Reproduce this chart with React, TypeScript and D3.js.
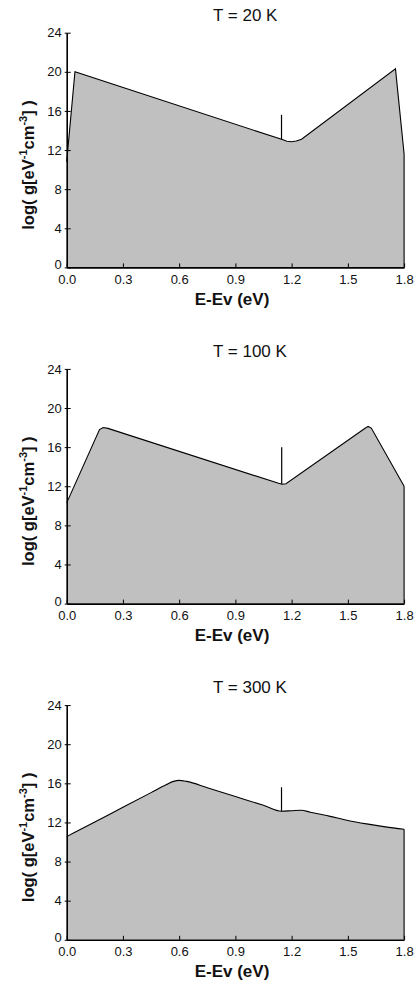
import React, { useEffect, useRef } from "react";
import * as d3 from "d3";

// panel titles
const temps = ["T = 20 K", "T = 100 K", "T = 300 K"];

// energy (eV) and log(g)
const energy20 = [0, 0.044, 1.146, 1.175, 1.2, 1.225, 1.253, 1.754, 1.8];
const g20 = [10.8, 20.0, 13.1, 12.9, 12.85, 12.92, 13.1, 20.3, 11.6];

const energy100 = [0, 0.175, 0.195, 0.22, 1.13, 1.15, 1.17, 1.59, 1.608, 1.625, 1.8];
const g100 = [10.3, 17.8, 18.0, 17.92, 12.3, 12.2, 12.25, 17.9, 18.12, 17.95, 12.0];

const energy300 = [0, 0.15, 0.3, 0.45, 0.53, 0.57, 0.6, 0.64, 0.75, 0.9, 1.05, 1.146, 1.2, 1.25, 1.3, 1.4, 1.5, 1.6, 1.7, 1.8];
const g300 = [10.55, 12.05, 13.55, 15.05, 15.85, 16.2, 16.3, 16.2, 15.55, 14.65, 13.75, 13.15, 13.2, 13.25, 13.05, 12.65, 12.2, 11.85, 11.55, 11.3];

// the short vertical mark near 1.15 eV
const spikeE = [1.146, 1.147, 1.146];
const spikeBase = [13.1, 12.2, 13.15];
const spikeTop = [15.6, 16.0, 15.6];

const xTicks = [0, 0.3, 0.6, 0.9, 1.2, 1.5, 1.8];
const yTicks = [0, 4, 8, 12, 16, 20, 24];

const series = [
  { e: energy20, g: g20 },
  { e: energy100, g: g100 },
  { e: energy300, g: g300 },
];

const FONT = "'Liberation Sans', Arial, sans-serif";

const App: React.FC = () => {
  const ref = useRef<SVGSVGElement>(null);

  useEffect(() => {
    const svg = d3.select(ref.current);
    svg.selectAll("*").remove();

    const left = 66.7;
    const width = 337.4;
    const height = 234.7;
    const firstTop = 32.7;
    const step = 336.2;

    const x = d3.scaleLinear().domain([0, 1.8]).range([0, width]);
    const y = d3.scaleLinear().domain([0, 24]).range([height, 0]);

    series.forEach((s, i) => {
      const top = firstTop + i * step;
      const g = svg.append("g").attr("transform", `translate(${left},${top})`);
      const pts: [number, number][] = s.e.map((e, k) => [e, s.g[k]]);
      const curve = i === 2 ? d3.curveMonotoneX : d3.curveLinear;

      // filled area
      const area = d3
        .area<[number, number]>()
        .x((d) => x(d[0]))
        .y0(y(0))
        .y1((d) => y(d[1]))
        .curve(curve);
      g.append("path").datum(pts).attr("d", area).attr("fill", "#c0c0c0");

      // outline
      const line = d3
        .line<[number, number]>()
        .x((d) => x(d[0]))
        .y((d) => y(d[1]))
        .curve(curve);
      g.append("path")
        .datum(pts)
        .attr("d", line)
        .attr("fill", "none")
        .attr("stroke", "#000")
        .attr("stroke-width", 1.1);
      const last = pts[pts.length - 1];
      g.append("line")
        .attr("x1", x(last[0]))
        .attr("x2", x(last[0]))
        .attr("y1", y(last[1]))
        .attr("y2", y(0))
        .attr("stroke", "#000")
        .attr("stroke-width", 1.1);

      // spike
      g.append("line")
        .attr("x1", x(spikeE[i]))
        .attr("x2", x(spikeE[i]))
        .attr("y1", y(spikeBase[i]))
        .attr("y2", y(spikeTop[i]))
        .attr("stroke", "#000")
        .attr("stroke-width", 1.2);

      // axes
      const xAxis = g
        .append("g")
        .attr("transform", `translate(0,${height})`)
        .call(
          d3
            .axisBottom(x)
            .tickValues(xTicks)
            .tickFormat(d3.format(".1f"))
            .tickSizeInner(-4)
            .tickSizeOuter(0)
            .tickPadding(7)
        );
      const yAxis = g.append("g").call(
        d3
          .axisLeft(y)
          .tickValues(yTicks)
          .tickSizeInner(-4)
          .tickSizeOuter(0)
          .tickPadding(5)
      );
      yAxis.selectAll(".tick line").attr("x1", -2);
      [xAxis, yAxis].forEach((a) => {
        a.select(".domain").attr("stroke", "#000").attr("stroke-width", 1.6);
        a.selectAll(".tick line").attr("stroke", "#000").attr("stroke-width", 1);
        a.selectAll("text")
          .attr("font-family", FONT)
          .attr("font-size", 13)
          .attr("fill", "#111");
      });
      // the "0" sits a little above the x labels
      yAxis
        .selectAll<SVGTextElement, number>(".tick text")
        .filter((d) => d === 0)
        .attr("dy", "0.12em");

      // title
      g.append("text")
        .attr("x", 213 - left)
        .attr("y", -12)
        .attr("font-family", FONT)
        .attr("font-size", 17)
        .attr("fill", "#111")
        .text(temps[i]);

      // x label
      g.append("text")
        .attr("x", 232 - left)
        .attr("y", height + 37.7)
        .attr("text-anchor", "middle")
        .attr("font-family", FONT)
        .attr("font-size", 17)
        .attr("font-weight", "bold")
        .attr("fill", "#111")
        .text("E-Ev (eV)");

      // y label
      const yl = g
        .append("text")
        .attr("transform", `translate(${34 - left},${132.3}) rotate(-90)`)
        .attr("text-anchor", "middle")
        .attr("font-family", FONT)
        .attr("font-size", 16.5)
        .attr("font-weight", "bold")
        .attr("fill", "#111");
      yl.append("tspan").text("log( g[eV");
      yl.append("tspan").attr("dy", -7).attr("font-size", 11).text("-1");
      yl.append("tspan").attr("dy", 7).text("cm");
      yl.append("tspan").attr("dy", -7).attr("font-size", 11).text("-3");
      yl.append("tspan").attr("dy", 7).text("] )");
    });
  }, []);

  return (
    <svg
      ref={ref}
      width={419}
      height={987}
      style={{ position: "absolute", left: 0, top: 0, display: "block", background: "#fff" }}
    />
  );
};

export default App;
